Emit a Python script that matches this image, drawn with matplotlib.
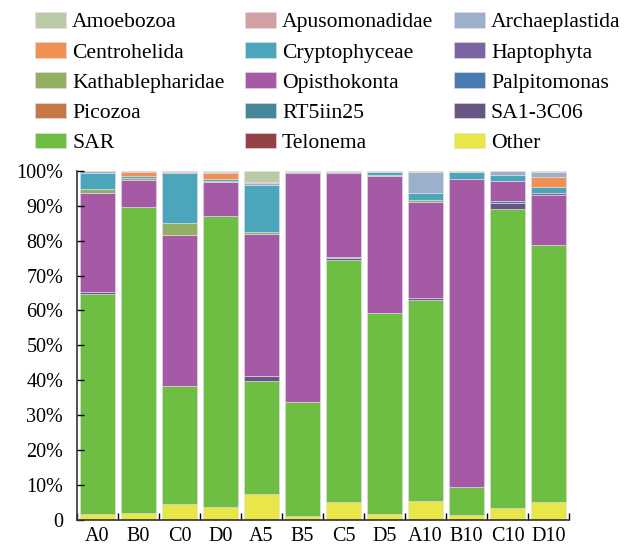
import matplotlib.pyplot as plt
import numpy as np

plt.rcParams['font.family'] = ['Liberation Serif', 'DejaVu Serif']

samples = ['A0', 'B0', 'C0', 'D0', 'A5', 'B5', 'C5', 'D5', 'A10', 'B10', 'C10', 'D10']

# relative abundance (%) per group, one value per sample
other = [1.6, 1.8, 4.4, 3.7, 7.3, 1.1, 4.9, 1.6, 5.3, 1.3, 3.4, 5.1]
telonema = [0, 0, 0, 0, 0, 0, 0, 0, 0, 0, 0, 0]
sar = [63.2, 88.0, 34.0, 83.3, 32.4, 32.7, 69.6, 57.7, 57.7, 7.9, 85.7, 73.7]
sa1_3c06 = [0.5, 0, 0, 0, 1.5, 0, 0.4, 0, 0.6, 0, 1.8, 0]
rt5iin25 = [0, 0, 0, 0, 0, 0, 0, 0, 0, 0, 0, 0]
picozoa = [0, 0, 0, 0, 0, 0, 0, 0, 0, 0, 0, 0]
palpitomonas = [0, 0, 0, 0, 0, 0, 0.5, 0, 0, 0, 0.6, 0]
opisthokonta = [28.3, 7.6, 43.3, 9.8, 40.8, 65.5, 23.9, 39.3, 27.6, 88.4, 5.7, 14.3]
kathablepharidae = [1.2, 0.6, 3.5, 0.2, 0.6, 0, 0, 0.3, 0.5, 0, 0, 0]
haptophyta = [0, 0, 0, 0, 0, 0, 0, 0, 0, 0, 0, 0.7]
cryptophyceae = [4.7, 0.6, 14.1, 0.8, 13.4, 0.5, 0.5, 0.8, 1.9, 2.2, 1.7, 1.7]
centrohelida = [0, 1.2, 0.5, 1.5, 0, 0, 0, 0, 0, 0, 0, 2.7]
archaeplastida = [0.5, 0.2, 0.2, 0.4, 0.6, 0, 0, 0, 6.2, 0, 1.0, 1.5]
apusomonadidae = [0, 0, 0, 0.1, 0.3, 0, 0, 0, 0, 0, 0, 0]
amoebozoa = [0, 0, 0, 0.2, 3.1, 0.2, 0.2, 0.3, 0.2, 0.2, 0.1, 0.3]

# legend order (row by row)
groups = ['Amoebozoa', 'Apusomonadidae', 'Archaeplastida', 'Centrohelida', 'Cryptophyceae',
          'Haptophyta', 'Kathablepharidae', 'Opisthokonta', 'Palpitomonas', 'Picozoa',
          'RT5iin25', 'SA1-3C06', 'SAR', 'Telonema', 'Other']
values = [amoebozoa, apusomonadidae, archaeplastida, centrohelida, cryptophyceae,
          haptophyta, kathablepharidae, opisthokonta, palpitomonas, picozoa,
          rt5iin25, sa1_3c06, sar, telonema, other]
colors = ['#BBCBA8', '#D0A0A2', '#9DB0CB', '#F09052', '#4CA6BB',
          '#7B65A0', '#93B062', '#A45AA4', '#4A7BB0', '#C57745',
          '#45889A', '#675582', '#6EBE44', '#954246', '#E9E64A']

fig = plt.figure(figsize=(6.29, 5.48), dpi=100)
ax = fig.add_axes([0.1224, 0.052, 0.7822, 0.636])

x = np.arange(len(samples))
bottom = np.zeros(len(samples))
handles = {}
# stack from the bottom: reverse of legend order
for name, vals, col in reversed(list(zip(groups, values, colors))):
    vals = np.array(vals, dtype=float)
    b = ax.bar(x, vals, 0.83, bottom=bottom, color=col, edgecolor='#e4dde6', linewidth=0.4, label=name)
    handles[name] = b
    bottom += vals

ax.set_xlim(-0.5, len(samples) - 0.5)
ax.set_ylim(0, 100)
ax.set_yticks(np.arange(0, 101, 10))
ax.set_yticklabels(['0'] + ['%d%%' % v for v in range(10, 101, 10)], fontsize=14.5)
ax.set_xticks(x)
ax.set_xticklabels(samples, fontsize=14.5)
ax.set_xticks(np.arange(-0.5, len(samples)), minor=True)
ax.tick_params(axis='x', which='major', length=0, pad=5.5)
ax.tick_params(axis='x', which='minor', direction='in', length=5, width=1)
ax.tick_params(axis='y', direction='in', length=5, width=1, pad=10)
ax.spines['top'].set_visible(False)
ax.spines['right'].set_visible(False)
for s in ['left', 'bottom']:
    ax.spines[s].set_linewidth(1.2)
    ax.spines[s].set_color('#333333')

# rearrange so legend reads row by row with 3 columns
order = [0, 3, 6, 9, 12, 1, 4, 7, 10, 13, 2, 5, 8, 11, 14]
h = [handles[groups[i]] for i in order]
l = [groups[i] for i in order]
fig.legend(h, l, ncol=3, loc='upper left', bbox_to_anchor=(35 / 629, 1 - 12 / 548),
           frameon=False, fontsize=15.6, handlelength=1.43, handleheight=0.74,
           handletextpad=0.28, labelspacing=0.45, columnspacing=0.95,
           borderpad=0, borderaxespad=0)

fig.savefig('out.png', dpi=100)
